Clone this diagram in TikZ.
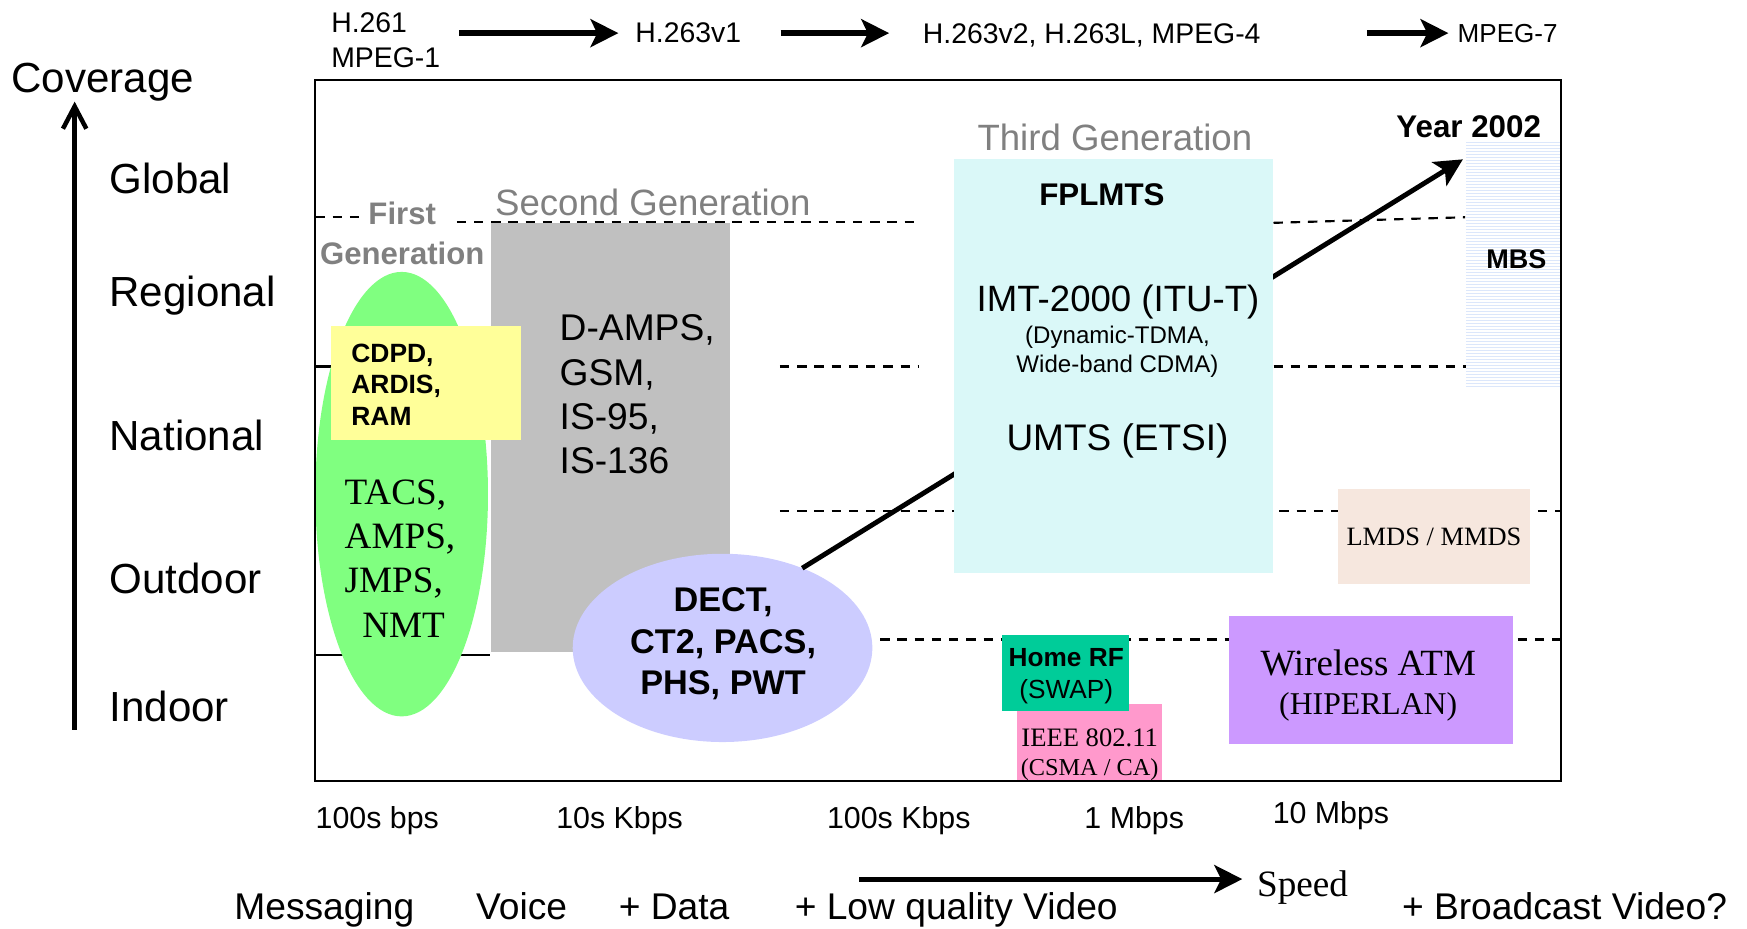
\documentclass[tikz,border=0pt]{standalone}
\usepackage{fontspec}
\setmainfont{Liberation Sans}
\newfontfamily\tms{Liberation Serif}
\usetikzlibrary{arrows.meta,shapes.geometric}

\definecolor{firstgen}{HTML}{80FF80}
\definecolor{datapad}{HTML}{FFFF99}
\definecolor{secondgen}{HTML}{C0C0C0}
\definecolor{cordless}{HTML}{CCCCFF}
\definecolor{thirdgen}{HTML}{DAF8F8}
\definecolor{mbsline}{HTML}{DCE7FB}
\definecolor{lmdsfill}{HTML}{F6E7DE}
\definecolor{homerffill}{HTML}{00CC99}
\definecolor{ieeefill}{HTML}{FF99CC}
\definecolor{watmfill}{HTML}{CC99FF}
\definecolor{gentext}{HTML}{808080}

\newcommand{\fsz}[2]{\fontsize{#1}{#2}\selectfont}

\begin{document}
\begin{tikzpicture}[x=0.02cm, y=-0.02cm,
        gridline/.style={dash pattern=on 4.8pt off 4pt, line width=1.1pt},
        fat arrow/.style={-{Stealth[length=0.5cm, width=0.5cm, inset=0.12cm]}, line width=2.6pt},
        block/.style={inner sep=0pt, outer sep=0pt}]
    \useasboundingbox (0,0) rectangle (1568,833);

    % coverage axis
    \begin{scope}[every node/.style={font=\fsz{21.5pt}{24pt}, anchor=base west, inner sep=0pt}]
        \node (coverage) at (10,83) {Coverage};
        \node (global) at (98,174) {Global};
        \node (regional) at (98,275) {Regional};
        \node (national) at (98,404) {National};
        \node (outdoor) at (98,533) {Outdoor};
        \node (indoor) at (98,648) {Indoor};
    \end{scope}
    \coordinate (covfoot) at (67,655);
    \draw[-{Straight Barb[length=0.4cm, width=0.42cm]}, line width=2.3pt] (covfoot) -- (covfoot |- coverage.south);

    % codecs
    \begin{scope}[every node/.style={font=\fsz{14.5pt}{17.9pt}, anchor=base west, inner sep=0pt}]
        \node[anchor=north west, align=left] (h261) at (297,11) {H.261\\MPEG-1};
        \node (h263v1) at (570,38.5) {H.263v1};
        \node (h263v2) at (828,39) {H.263v2, H.263L, MPEG-4};
        \node[font=\fsz{13.3pt}{16pt}] (mpeg7) at (1308,38.5) {MPEG-7};
    \end{scope}
    \draw[fat arrow, line width=3pt, shorten <=0.34cm, shorten >=0.3cm] (h261.east |- h263v1) -- (h263v1);
    \draw[fat arrow, line width=3pt, shorten <=0.7cm, shorten >=0.6cm] (h263v1) -- (h263v2.west |- h263v1);
    \draw[fat arrow, line width=3pt, shorten <=1.9cm, shorten >=0.16cm] (h263v2.east |- h263v1) -- (mpeg7.west |- h263v1);

    % level lines
    \draw[gridline] (283,195) -- (328,195);
    \draw[gridline] (410,199) -- (825,199);
    \draw[gridline] (1143,200) -- (1315,195);
    \draw[gridline] (700,329) -- (824,329);
    \draw[gridline] (1143,329) -- (1316,329);
    \draw[gridline] (700,459) -- (1401,459);
    \draw[gridline] (790,574) -- (1401,574);
    \draw[line width=1.1pt] (283,329) -- (300,329);
    \draw[line width=1.1pt] (283,588) -- (440,588);

    \begin{scope}[every node/.style={block}]
        \node[fill=secondgen, minimum width=4.28cm, minimum height=7.7cm] (second) at (548,392.5) {};
        \node[ellipse, fill=firstgen, minimum width=3.1cm, minimum height=7.98cm] (first) at (360.5,443.5) {};
        \node[fill=datapad, minimum width=3.42cm, minimum height=2.04cm] (cdpd) at (382.5,344) {};
        \node[ellipse, fill=cordless, minimum width=5.38cm, minimum height=3.38cm] (dect) at (648.5,581.5) {};
    \end{scope}

    \coordinate (year2002) at (1313,143);
    \draw[fat arrow, line width=2.5pt] (dect.45) -- (year2002);

    \begin{scope}[every node/.style={block}]
        \node[fill=thirdgen, minimum width=5.74cm, minimum height=7.42cm] (third) at (999.5,328.5) {};
        \node[fill=white, minimum width=1.7cm, minimum height=4.46cm] (mbs) at (1358.5,238.5) {};
        \node[fill=lmdsfill, minimum width=3.44cm, minimum height=1.7cm, font=\tms\fsz{13.5pt}{16pt}] (lmds) at (1287,481.5) {LMDS / MMDS};
        \node[fill=ieeefill, minimum width=2.6cm, minimum height=1.38cm] (ieee) at (978,666.5) {};
        \node[fill=homerffill, minimum width=2.28cm, minimum height=1.36cm] (homerf) at (956,604) {};
        \node[fill=watmfill, minimum width=5.1cm, minimum height=2.3cm] (watm) at (1230.5,610.5) {};
    \end{scope}
    \foreach \yy in {128,130.7,...,349}
        \draw[mbsline, line width=0.45pt] (mbs.west |- 0,\yy) -- (mbs.east |- 0,\yy);

    \begin{scope}[every node/.style={inner sep=0pt, anchor=base}]
        \node[font=\bfseries\fsz{16pt}{18pt}] (fplmts) at (989,184) {FPLMTS};
        \node[font=\fsz{18.7pt}{20pt}] (imt) at (1003.5,280) {IMT-2000 (ITU-T)};
        \node[font=\fsz{12.3pt}{15pt}, align=center, anchor=north] (imt modes) at (1003,292) {(Dynamic-TDMA,\\Wide-band CDMA)};
        \node[font=\fsz{18.9pt}{20pt}] (umts) at (1003,404) {UMTS (ETSI)};
        \node[font=\bfseries\fsz{13.8pt}{16pt}] (mbs label) at (1361,241) {MBS};
        \node[font=\bfseries\fsz{16pt}{18pt}, anchor=base west] (year) at (1253,123) {Year 2002};
        \node[text=gentext, font=\fsz{18.7pt}{20pt}, anchor=base west] (third label) at (877,135) {Third Generation};
        \node[text=gentext, font=\fsz{18.7pt}{20pt}, anchor=base west] (second label) at (444,193) {Second Generation};
        \node[text=gentext, font=\bfseries\fsz{15.9pt}{20.4pt}, align=center, anchor=north] (first label) at (361,181) {First\\Generation};
        \node[font=\fsz{19pt}{22.7pt}, align=left, anchor=north west] (gsm) at (502,282) {D-AMPS,\\GSM,\\IS-95,\\IS-136};
        \node[font=\bfseries\fsz{13.5pt}{16.2pt}, align=left, anchor=north west] (cdpd text) at (315,308) {CDPD,\\ARDIS,\\RAM};
        \node[font=\tms\fsz{19pt}{22.7pt}, align=left, anchor=north west] (tacs) at (309,430) {TACS,\\AMPS,\\JMPS,\\\hspace*{9pt}NMT};
        \node[font=\bfseries\fsz{17.5pt}{21.3pt}, align=center, anchor=north] (dect text) at (649,527) {DECT,\\CT2, PACS,\\PHS, PWT};
        \node[font=\fsz{13.4pt}{15.9pt}, align=center, anchor=north] (homerf text) at (957,582) {\textbf{Home RF}\\(SWAP)};
        \node[font=\tms\fsz{13.6pt}{14.5pt}, align=center, anchor=north] (ieee text) at (978,654) {IEEE 802.11\\{\fsz{12.4pt}{14.5pt}(CSMA / CA)}};
        \node[font=\tms\fsz{18.9pt}{19.8pt}, align=center, anchor=north] (watm text) at (1228,583) {Wireless ATM\\{\fsz{16.2pt}{19.8pt}(HIPERLAN)}};
    \end{scope}

    % speeds and services
    \begin{scope}[every node/.style={font=\fsz{15.5pt}{18pt}, anchor=base west, inner sep=0pt}]
        \node (r100bps) at (283,744) {100s bps};
        \node (r10k) at (499,744) {10s Kbps};
        \node (r100k) at (742,744) {100s Kbps};
        \node (r1m) at (973,744) {1 Mbps};
        \node (r10m) at (1142,739) {10 Mbps};
    \end{scope}
    \begin{scope}[every node/.style={font=\fsz{19pt}{22pt}, anchor=base west, inner sep=0pt}]
        \node (messaging) at (210,825) {Messaging};
        \node (voice) at (427,825) {Voice};
        \node (data) at (555,825) {+ Data};
        \node (lowvideo) at (713,825) {+ Low quality Video};
        \node[font=\tms\fsz{19pt}{22pt}] (speed) at (1128,805) {Speed};
        \node (broadcast) at (1258,825) {+ Broadcast Video?};
    \end{scope}
    \coordinate (slow) at (771,789);
    \draw[fat arrow, shorten >=0.26cm] (slow) -- (speed.west |- slow);

    \draw[line width=1.1pt] (283,72) rectangle (1401,701);
\end{tikzpicture}
\end{document}
